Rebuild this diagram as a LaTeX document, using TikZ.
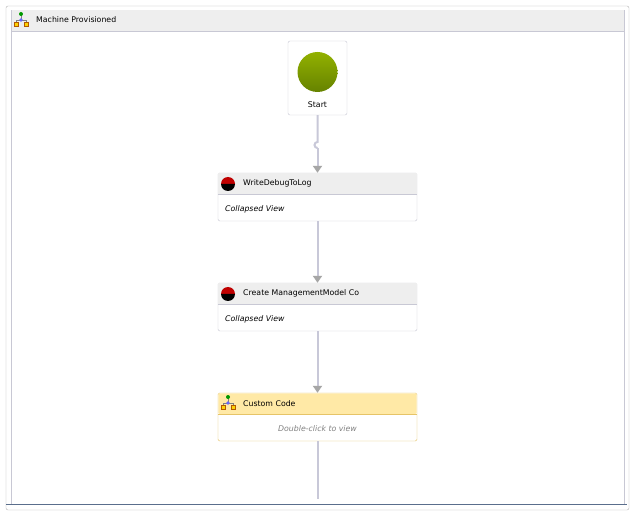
\documentclass[tikz,border=0pt]{standalone}
\usepackage{fontspec}
\setmainfont{DejaVu Sans}
\usetikzlibrary{positioning,arrows.meta}
\definecolor{frame}{HTML}{C8C8D4}
\definecolor{headgray}{HTML}{EEEEEE}
\definecolor{link}{HTML}{C8C8D8}
\definecolor{gold}{HTML}{E6C467}
\definecolor{paleyellow}{HTML}{FFE9A6}
\definecolor{olive}{HTML}{7FA300}
\definecolor{steel}{HTML}{5A6E8C}
\tikzset{
  activity/.style={draw=frame,fill=white,rounded corners=1.5pt,minimum width=199pt,minimum height=48pt,inner sep=0pt},
  title/.style={font=\fontsize{7.8}{9}\selectfont,anchor=west,inner sep=0pt},
  body/.style={font=\fontsize{7.8}{9}\selectfont\itshape,anchor=west,inner sep=0pt},
  flow/.style={link,line width=2pt,-{Triangle[length=7pt,width=9pt,color=gray!70]}}
}
\newcommand{\stopicon}[1]{%
  \fill[red!75!black] (#1) ++(-7pt,0) arc (180:0:7pt) -- cycle;
  \fill[black] (#1) ++(-7pt,0) arc (180:360:7pt) -- cycle;}
\newcommand{\flowicon}[1]{%
  \begin{scope}[shift={(#1)}]
  \draw[gray] (0,-5) -- (0,0) (-5,3) -- (-5,0) -- (5,0) -- (5,3);
  \fill[green!60!black] (0,-6) circle (2pt);
  \fill[blue!60] (0,0) circle (1.8pt);
  \draw[draw=orange!70!black,fill=yellow!70!orange] (-7,2.5) rectangle (-3,6.5) (3,2.5) rectangle (7,6.5);
  \end{scope}}
\begin{document}
\begin{tikzpicture}[x=1pt,y=-1pt]
	\useasboundingbox (0,0) rectangle (635,513);
	% frame and header
	\draw[gray!60,fill=white,rounded corners=2pt] (6,6) rectangle (629,510);
	\draw[frame] (11,10) rectangle (624,504);
	\fill[headgray] (11.5,10.5) rectangle (623.5,31);
	\draw[frame] (11,31) -- (624,31);
	\draw[steel,line width=0.8pt] (6,504.5) -- (627,504.5);
	\flowicon{21,20}
	\node[title] (name) at (36,20) {Machine Provisioned};

	% start
	\node[draw=frame,fill=white,rounded corners=2pt,minimum width=59pt,minimum height=74pt] (start) at (317.5,78) {};
	\shade[top color=olive!85!yellow,bottom color=olive!80!black] (317.5,72) circle (20pt);
	\node[font=\fontsize{7.8}{9}\selectfont] (startlbl) at (317.5,105) {Start};

	% activities
	\node[activity] (debug) at (317.5,197) {};
	\fill[headgray] ([shift={(0.6,0.6)}]debug.north west) rectangle ([shift={(-0.6,21)}]debug.north east);
	\draw[frame] ([yshift=-21]debug.north west) -- ([yshift=-21]debug.north east);
	\stopicon{228,184}
	\node[title] (debugt) at (243,183.5) {WriteDebugToLog};
	\node[body] (debugb) at (225,209) {Collapsed View};

	\node[activity] (mgmt) at (317.5,307) {};
	\fill[headgray] ([shift={(0.6,0.6)}]mgmt.north west) rectangle ([shift={(-0.6,21)}]mgmt.north east);
	\draw[frame] ([yshift=-21]mgmt.north west) -- ([yshift=-21]mgmt.north east);
	\stopicon{228,294}
	\node[title] (mgmtt) at (243,293.5) {Create ManagementModel Co};
	\node[body] (mgmtb) at (225,319) {Collapsed View};

	\node[activity,draw=gold] (custom) at (317.5,417) {};
	\fill[paleyellow,rounded corners=1pt] ([shift={(0.6,0.6)}]custom.north west) rectangle ([shift={(-0.6,21)}]custom.north east);
	\draw[gold] ([yshift=-21]custom.north west) -- ([yshift=-21]custom.north east);
	\flowicon{228,403}
	\node[title] (customt) at (243,403.5) {Custom Code};
	\node[font=\fontsize{7.8}{9}\selectfont\itshape,text=gray] (customb) at (317.5,429) {Double-click to view};

	% connectors
	\coordinate (hop) at (317.5,142);
	\draw[link,line width=2pt] (start.south) -- (hop) arc (90:270:3pt);
	\draw[flow] ([yshift=-6]hop) -- (debug.north);
	\draw[flow] (debug.south) -- (mgmt.north);
	\draw[flow] (mgmt.south) -- (custom.north);
	\coordinate (tail) at (317.5,499);
	\draw[link,line width=2pt] (custom.south) -- (tail);
\end{tikzpicture}
\end{document}
